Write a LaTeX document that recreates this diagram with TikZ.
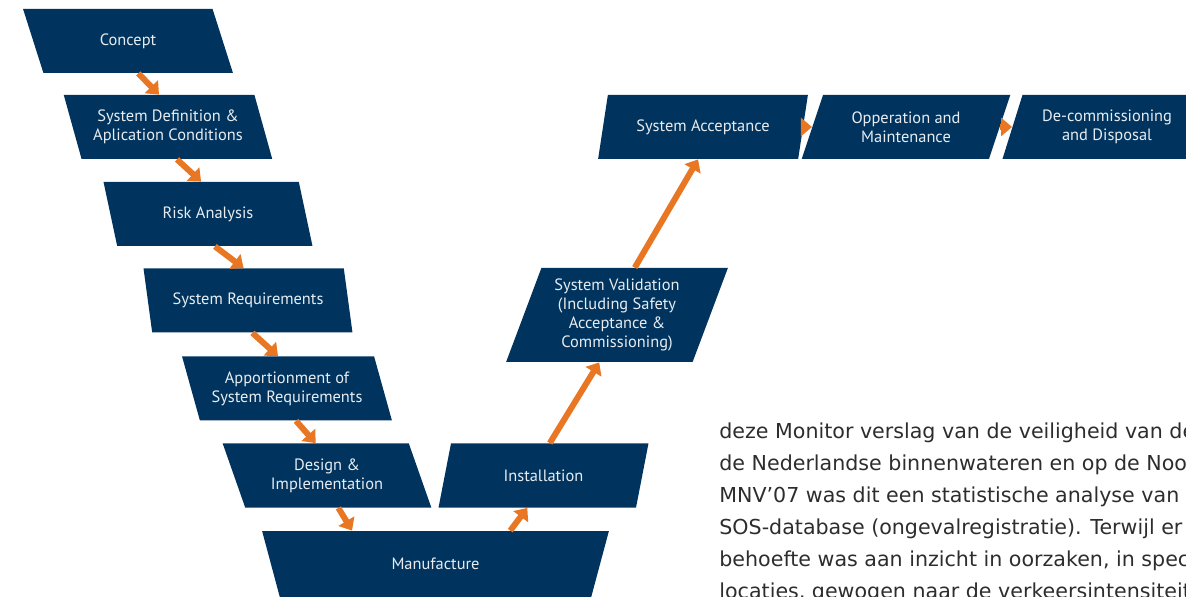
\documentclass[tikz,border=0pt]{standalone}
\usepackage{fontspec}
\setmainfont{PT Sans}
\newfontfamily\bodyfont{DejaVu Sans}
\usetikzlibrary{arrows.meta,shapes.geometric,calc}
\definecolor{vnavy}{RGB}{0,52,94}
\definecolor{vorange}{RGB}{232,118,34}
\definecolor{vlabel}{RGB}{232,236,240}
\definecolor{vbody}{RGB}{45,45,45}
\tikzset{
  vbox/.style={
    shape=trapezium, fill=vnavy, text=vlabel, align=center,
    inner sep=0pt, trapezium stretches=true,
    minimum width=105pt, minimum height=32pt,
    font=\fontsize{8.2}{9.5}\selectfont
  },
  downstep/.style={vbox, trapezium left angle=114.4, trapezium right angle=65.6},
  upstep/.style={vbox, trapezium left angle=65.6, trapezium right angle=114.4},
  basestep/.style={vbox, trapezium left angle=113, trapezium right angle=113,
    minimum width=173.5pt, minimum height=33pt},
  flow/.style={-{Triangle[length=5.5pt,width=9pt]}, draw=vorange, line width=3pt},
  bodytext/.style={text=vbody, align=left, inner sep=0pt,
    font=\bodyfont\fontsize{10.3}{16}\selectfont}
}
\begin{document}
\begin{tikzpicture}[x=0.5pt, y=-0.5pt]
  \useasboundingbox (0,0) rectangle (1186,597);
  \clip (0,0) rectangle (1186,597);
  % left leg of the V
  \node[downstep] (concept) at (128,41) {Concept};
  \node[downstep] (sysdef) at (168,127) {System Definition \&\\Aplication Conditions};
  \node[downstep] (risk) at (208,214) {Risk Analysis};
  \node[downstep] (sysreq) at (248,300.5) {System Requirements};
  \node[downstep] (apport) at (287,388.5) {Apportionment of\\System Requirements};
  \node[downstep] (design) at (327,475.5) {Design \&\\Implementation};
  \node[basestep] (manu) at (435.5,564) {Manufacture};
  % right leg and top row
  \node[upstep] (install) at (543.5,475.5) {Installation};
  \node[upstep, minimum width=112pt, minimum height=47pt,
    trapezium left angle=68, trapezium right angle=112] (valid) at (617,315)
    {System Validation\\(Including Safety\\Acceptance \&\\Commissioning)};
  \node[upstep] (accept) at (703,127) {System Acceptance};
  \node[upstep] (operation) at (906,127) {Opperation and\\Maintenance};
  \node[upstep] (decom) at (1107,127) {De-commissioning\\and Disposal};
  \draw[flow] (concept.bottom side) -- (sysdef.top side);
  \draw[flow] (sysdef.bottom side) -- (risk.top side);
  \draw[flow] (risk.bottom side) -- (sysreq.top side);
  \draw[flow] (sysreq.bottom side) -- (apport.top side);
  \draw[flow] (apport.bottom side) -- (design.top side);
  \draw[flow] (design.bottom side) -- ($(manu.top left corner)!0.26!(manu.top right corner)$);
  \draw[flow] ($(manu.top left corner)!0.715!(manu.top right corner)$)
    -- ($(install.bottom left corner)!0.45!(install.bottom right corner)$);
  \draw[flow] (install.top side) -- (valid.bottom side);
  \draw[flow] (valid.top side) -- (accept.bottom side);
  \draw[flow] (accept.right side) -- (operation.left side);
  \draw[flow] (operation.right side) -- (decom.left side);
  % running text, cut by the page edge
  \node[bodytext, anchor=north west] (body) at (719,422)
    {deze Monitor verslag van de veiligheid van de\\
     de Nederlandse binnenwateren en op de Noordzee\\
     MNV’07 was dit een statistische analyse van de\\
     SOS-database (ongevalregistratie). Terwijl er\\
     behoefte was aan inzicht in oorzaken, in specifieke\\
     locaties, gewogen naar de verkeersintensiteit};
\end{tikzpicture}
\end{document}
